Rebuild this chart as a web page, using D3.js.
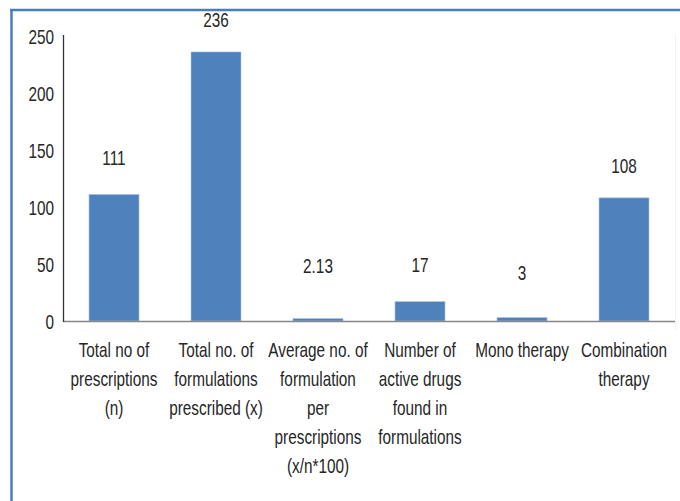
<!DOCTYPE html>
<html>
<head>
<meta charset="utf-8">
<script src="https://cdn.jsdelivr.net/npm/d3@7"></script>
<style>
  body { margin: 0; background: #fff; }
  svg text { font-family: "Liberation Sans", Arial, sans-serif; fill: #262626; }
</style>
</head>
<body>
<svg id="chart" width="680" height="501"></svg>
<script>
// ===== Data =====
const categories = [
  "Total no of prescriptions (n)",
  "Total no. of formulations prescribed (x)",
  "Average no. of formulation per prescriptions (x/n*100)",
  "Number of active drugs found in formulations",
  "Mono therapy",
  "Combination therapy"
];
const categoryLines = [
  ["Total no of", "prescriptions", "(n)"],
  ["Total no. of", "formulations", "prescribed (x)"],
  ["Average no. of", "formulation", "per", "prescriptions", "(x/n*100)"],
  ["Number of", "active drugs", "found in", "formulations"],
  ["Mono therapy"],
  ["Combination", "therapy"]
];
const values = [111, 236, 2.13, 17, 3, 108];
const valueLabels = ["111", "236", "2.13", "17", "3", "108"];
const yTicks = [0, 50, 100, 150, 200, 250];

// labels were dragged by hand in the original, gap above each bar
const labelGap = [29, 25, 46, 30, 38, 25];

// ===== Layout =====
const svg = d3.select("#chart");
const plotLeft = 63, plotRight = 675, plotTop = 36, plotBottom = 321;
const sx = 0.73; // condensed text
const fontSize = 21;

const x = d3.scaleBand()
  .domain(categories)
  .range([plotLeft, plotRight])
  .paddingInner(0.51)
  .paddingOuter(0.255);

const y = d3.scaleLinear()
  .domain([0, 250])
  .range([plotBottom, plotTop]);

function condensedText(g, tx, ty, str, anchor) {
  return g.append("text")
    .attr("transform", `translate(${tx},${ty}) scale(${sx},1)`)
    .attr("text-anchor", anchor)
    .style("font-size", fontSize + "px")
    .text(str);
}

// frame
svg.append("line")
  .attr("x1", 11.5).attr("x2", 11.5).attr("y1", 9).attr("y2", 501)
  .attr("stroke", "#4a7ebb").attr("stroke-width", 2.5);
svg.append("line")
  .attr("x1", 10).attr("x2", 680).attr("y1", 10).attr("y2", 10)
  .attr("stroke", "#4a7ebb").attr("stroke-width", 2.5);
svg.append("line")
  .attr("x1", 675.5).attr("x2", 675.5).attr("y1", 35).attr("y2", 330)
  .attr("stroke", "#f0f0f0").attr("stroke-width", 1);

// bars
svg.selectAll("rect.bar")
  .data(values)
  .enter()
  .append("rect")
  .attr("class", "bar")
  .attr("x", (d, i) => x(categories[i]))
  .attr("width", x.bandwidth())
  .attr("y", d => y(d))
  .attr("height", d => plotBottom - y(d))
  .attr("fill", "#4f81bd")
  .attr("stroke", "#a9c1e0")
  .attr("stroke-width", 0.6);

// axes
svg.append("line")
  .attr("x1", plotLeft).attr("x2", plotRight).attr("y1", plotBottom + 0.5).attr("y2", plotBottom + 0.5)
  .attr("stroke", "#868686").attr("stroke-width", 1.3);
svg.append("line")
  .attr("x1", plotLeft + 0.5).attr("x2", plotLeft + 0.5).attr("y1", plotTop - 1).attr("y2", plotBottom + 1)
  .attr("stroke", "#333").attr("stroke-width", 1.3);

// y tick labels
const yAxis = svg.append("g");
yTicks.forEach(t => condensedText(yAxis, 54, y(t) + 8, t, "end"));

// value labels
const vl = svg.append("g");
values.forEach((d, i) => {
  condensedText(vl, x(categories[i]) + x.bandwidth() / 2, y(d) - labelGap[i], valueLabels[i], "middle");
});

// category labels
const cl = svg.append("g");
categoryLines.forEach((lines, i) => {
  const cx = x(categories[i]) + x.bandwidth() / 2;
  lines.forEach((ln, j) => condensedText(cl, cx, 357 + j * 29, ln, "middle"));
});
</script>
</body>
</html>
